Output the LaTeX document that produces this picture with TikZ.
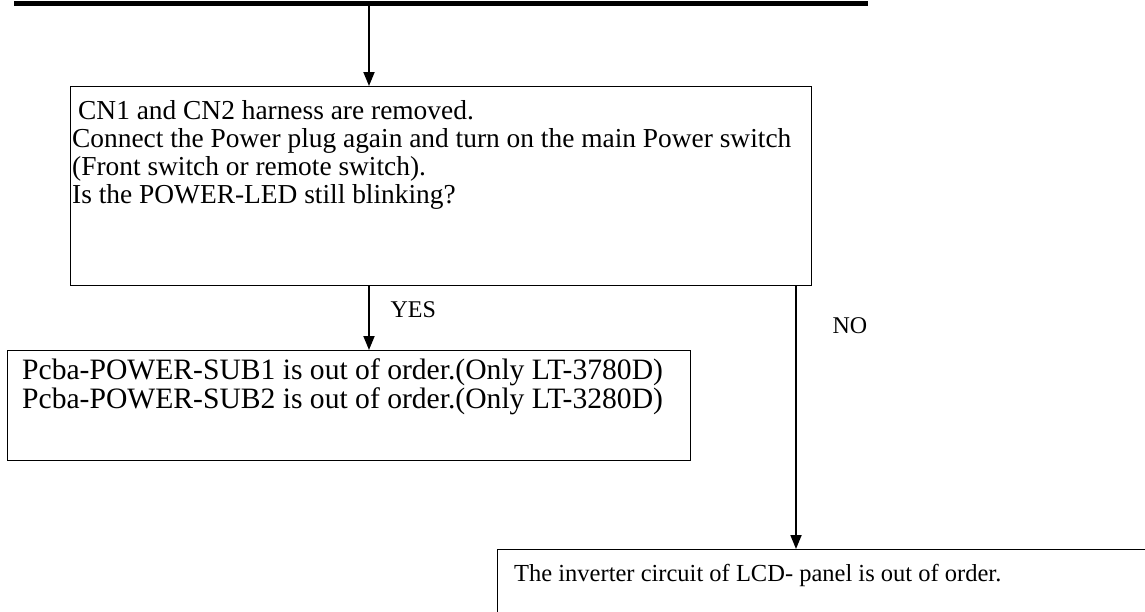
\documentclass[tikz,border=0pt]{standalone}
\usepackage{fontspec}
\setmainfont{Liberation Serif}
\usetikzlibrary{arrows.meta, positioning}

\begin{document}
\begin{tikzpicture}[x=1pt, y=-1pt,
    box/.style={draw, line width=1.3pt, anchor=north west, inner sep=0pt},
    txt/.style={anchor=base west, inner sep=0pt, align=left},
    flow/.style={-{Triangle[length=14pt, width=11pt]}, line width=1.8pt},
    lbl/.style={font=\fontsize{24}{28}\selectfont}
]
\clip (0,0) rectangle (1145,611);

% cut-off end of the previous step
\draw[line width=5pt] (14,3) -- (868,3);
\coordinate (top) at (369,3);

\node[box, minimum width=741pt, minimum height=199pt] (check) at (70,86) {};
% base west = baseline of the last line
\node[txt, font=\fontsize{27.4}{28}\selectfont] (checktxt) at (72,203) {\hspace{6pt}CN1 and CN2 harness are removed.\\
Connect the Power plug again and turn on the main Power switch\\
(Front switch or remote switch).\\
Is the POWER-LED still blinking?};

\node[box, minimum width=683pt, minimum height=110pt] (sub) at (7,350) {};
\node[txt, font=\fontsize{29.6}{29}\selectfont] (subtxt) at (22,408) {Pcba-POWER-SUB1 is out of order.(Only LT-3780D)\\
Pcba-POWER-SUB2 is out of order.(Only LT-3280D)};

\node[box, minimum width=700pt, minimum height=100pt] (inv) at (497,549) {};
\node[txt, font=\fontsize{24.5}{28}\selectfont] (invtxt) at (514,581) {The inverter circuit of LCD- panel is out of order.};

\coordinate (yes) at (369,285);
\coordinate (no) at (796,285);

\draw[flow] (top) -- (top |- check.north);
\draw[flow] (yes) -- (yes |- sub.north);
\draw[flow] (no) -- (no |- inv.north);
\node[lbl, anchor=base west] (yeslbl) at (387,317) {YES};
\node[lbl, anchor=base west] (nolbl) at (829,333) {NO};
\end{tikzpicture}
\end{document}
